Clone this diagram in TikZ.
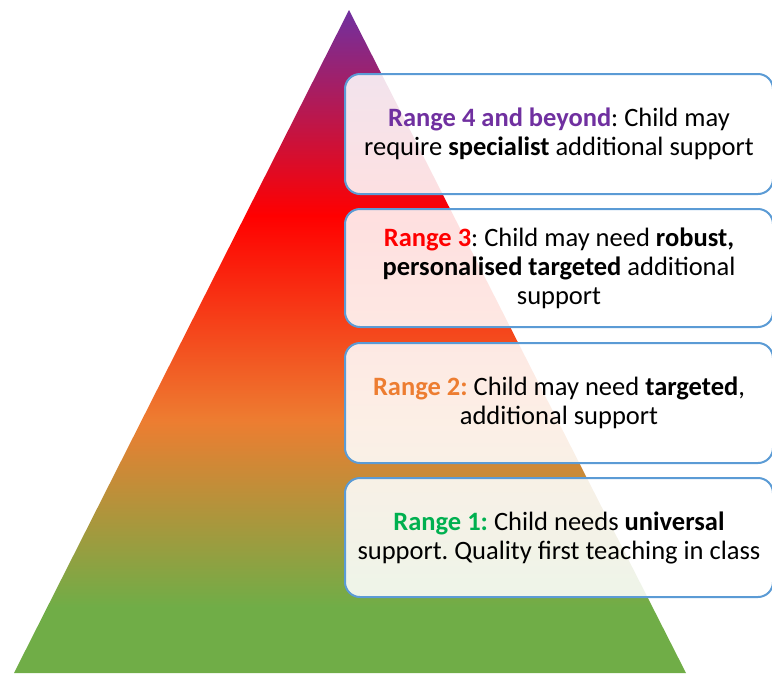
\documentclass[tikz,border=0pt]{standalone}
\usepackage{fontspec}
\setmainfont{Carlito}
\frenchspacing
\definecolor{rpurple}{HTML}{7030A0}
\definecolor{rred}{HTML}{FF0000}
\definecolor{rorange}{HTML}{ED7D31}
\definecolor{rgreen}{HTML}{70AD47}
\definecolor{lgreen}{HTML}{00B050}
\definecolor{bblue}{HTML}{5B9BD5}
\pgfdeclareverticalshading{pyr}{100bp}{color(0bp)=(rgreen); color(30bp)=(rgreen); color(44bp)=(rorange); color(59.5bp)=(rred); color(75bp)=(rpurple); color(100bp)=(rpurple)}
\begin{document}
\begin{tikzpicture}[x=1pt,y=-1pt,
  rangebox/.style={draw=bblue, line width=2pt, rounded corners=15pt, fill=white, fill opacity=0.88, text opacity=1,
    minimum width=428pt, inner sep=0pt, align=center, font=\fontsize{26.5}{29}\selectfont\frenchspacing}]
\useasboundingbox (0,0) rectangle (772,673);
\shade[shading=pyr] (349,10) -- (686,673) -- (14,673) -- cycle;
\node[rangebox, minimum height=120pt] (r4) at (559,134)
  {\textcolor{rpurple}{\textbf{Range 4 and beyond}}: Child may\\require \textbf{specialist} additional support};
\node[rangebox, minimum height=118pt] (r3) at (559,268)
  {\textcolor{rred}{\textbf{Range 3}}: Child may need \textbf{robust,}\\\textbf{personalised targeted} additional\\support};
\node[rangebox, minimum height=120pt] (r2) at (559,403)
  {\textcolor{rorange}{\textbf{Range 2:}} Child may need \textbf{targeted},\\additional support};
\node[rangebox, minimum height=119pt] (r1) at (559,537.5)
  {\textcolor{lgreen}{\textbf{Range 1:}} Child needs \textbf{universal}\\support. Quality first teaching in class};
\end{tikzpicture}
\end{document}
